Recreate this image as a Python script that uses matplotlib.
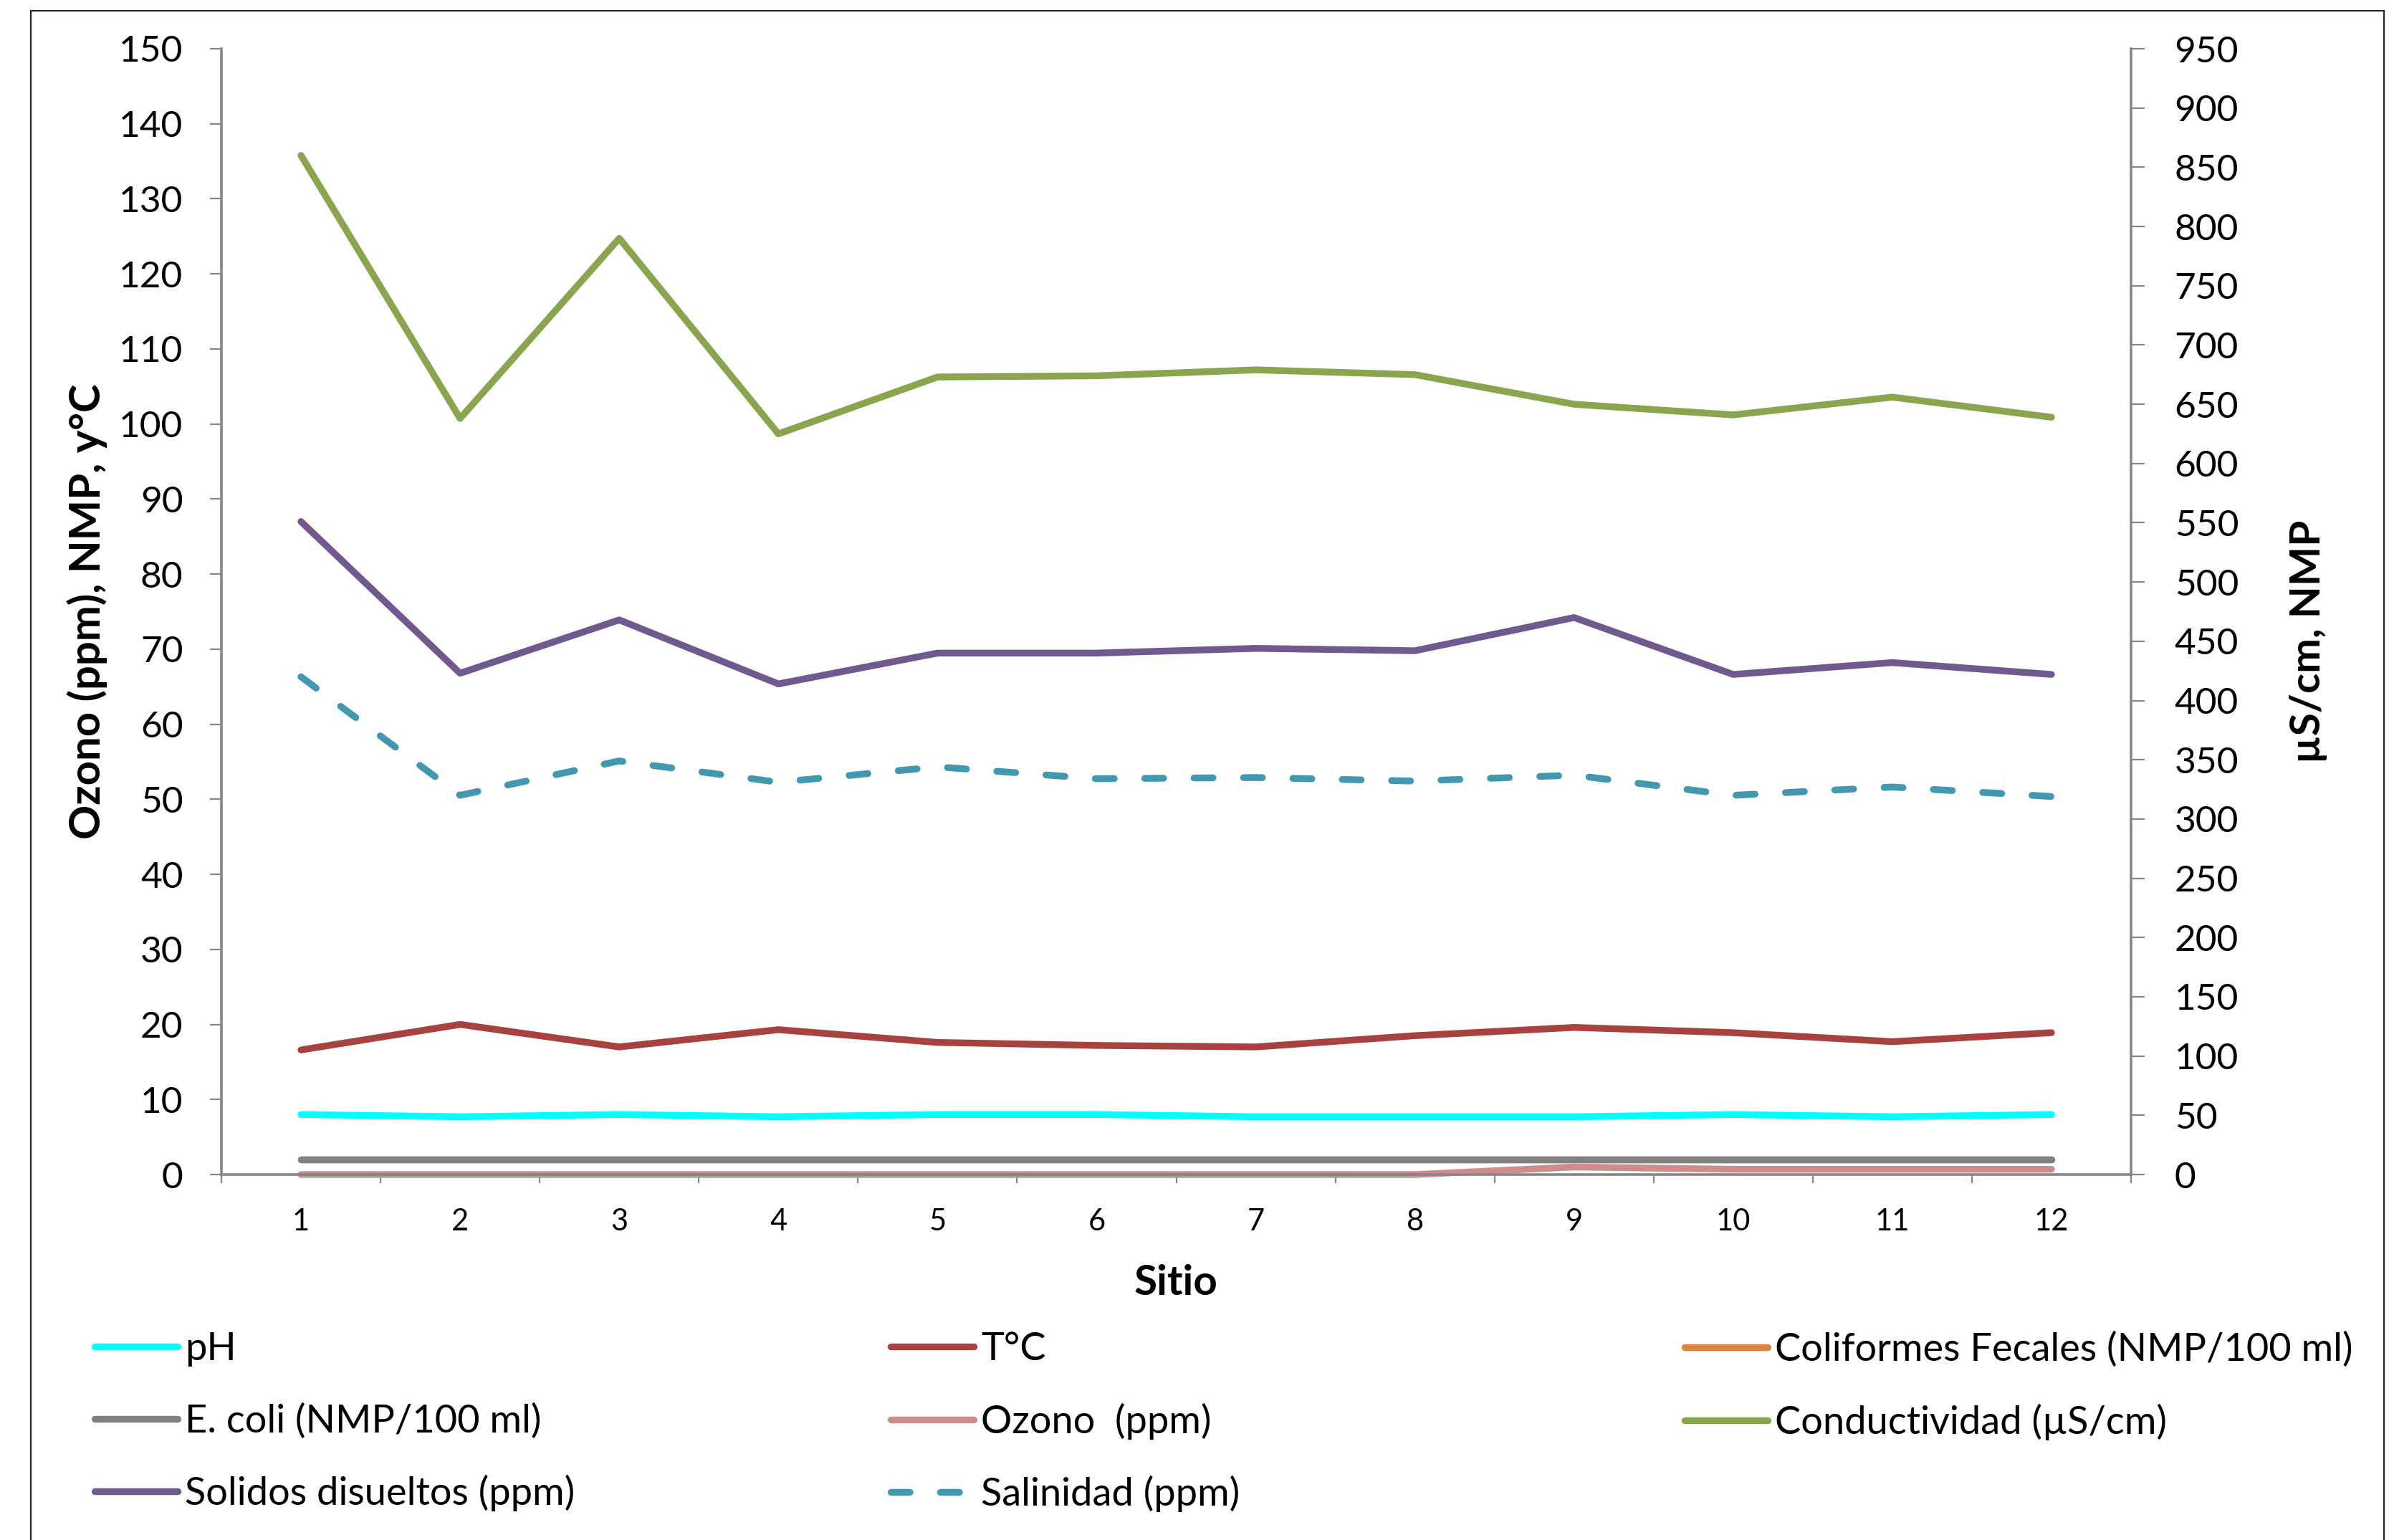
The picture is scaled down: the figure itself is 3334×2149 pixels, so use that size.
import numpy as np
import matplotlib
matplotlib.use("Agg")
import matplotlib.pyplot as plt
from matplotlib.patches import Rectangle
from matplotlib.ticker import MultipleLocator, FixedLocator

# ---------------- data ----------------
sitios = [1, 2, 3, 4, 5, 6, 7, 8, 9, 10, 11, 12]
ph = [8.0, 7.7, 8.0, 7.7, 8.0, 8.0, 7.7, 7.7, 7.7, 8.0, 7.7, 8.0]
temp = [16.6, 20.0, 17.0, 19.3, 17.6, 17.2, 17.0, 18.5, 19.6, 18.9, 17.7, 18.9]
coliformes = [2, 2, 2, 2, 2, 2, 2, 2, 2, 2, 2, 2]
ecoli = [2, 2, 2, 2, 2, 2, 2, 2, 2, 2, 2, 2]
ozono = [0, 0, 0, 0, 0, 0, 0, 0, 1.0, 0.7, 0.7, 0.7]
conductividad = [860, 638, 790, 625, 673, 674, 679, 675, 650, 641, 656, 639]
solidos = [551, 423, 468, 414, 440, 440, 444, 442, 470, 422, 432, 422]
salinidad = [420, 320, 349, 331, 344, 334, 335, 332, 337, 320, 327, 319]

labels_primary = ["pH", "T°C", "Coliformes Fecales (NMP/100 ml)",
                  "E. coli (NMP/100 ml)", "Ozono  (ppm)"]
labels_secondary = ["Conductividad (µS/cm)", "Solidos disueltos (ppm)",
                    "Salinidad (ppm)"]
xtick_labels = [str(s) for s in sitios]

# ---------------- style ----------------
plt.rcParams["font.family"] = ["Lato", "DejaVu Sans"]
W, H = 3334, 2149
DPI = 100
grey = "#868686"
LW = 6.8

fig = plt.figure(figsize=(W / DPI, H / DPI), dpi=DPI)
fig.patch.set_facecolor("white")

left_px, right_px, top_px, bot_px = 309, 2974, 68, 1639
ax = fig.add_axes([left_px / W, 1 - bot_px / H,
                   (right_px - left_px) / W, (bot_px - top_px) / H])
ax2 = ax.twinx()

common = dict(lw=LW, solid_capstyle="round", solid_joinstyle="round",
              clip_on=False)

ax.plot(sitios, ph, color="#00FFFF", label=labels_primary[0], **common)
ax.plot(sitios, temp, color="#A8423F", label=labels_primary[1], **common)
ax.plot(sitios, coliformes, color="#DB843D", label=labels_primary[2], **common)
ax.plot(sitios, ecoli, color="#808080", label=labels_primary[3], **common)
ax.plot(sitios, ozono, color="#CF8C8C", label=labels_primary[4], **common)

ax2.plot(sitios, conductividad, color="#89A54E", label=labels_secondary[0], **common)
ax2.plot(sitios, solidos, color="#71588F", label=labels_secondary[1], **common)
ax2.plot(sitios, salinidad, color="#4198AF", label=labels_secondary[2],
         ls=(0, (2.8, 4.5)), dash_capstyle="round", lw=LW,
         solid_joinstyle="round", clip_on=False)

# ---------------- axes ----------------
ax.set_xlim(0.5, 12.5)
ax.set_ylim(0, 150)
ax2.set_ylim(0, 950)
ax.yaxis.set_major_locator(MultipleLocator(10))
ax2.yaxis.set_major_locator(MultipleLocator(50))

ax.set_xticks(sitios)
ax.set_xticklabels(xtick_labels)
ax.xaxis.set_minor_locator(FixedLocator(np.arange(0.5, 13.0, 1.0)))

ax.tick_params(axis="x", which="major", length=0, pad=34, labelsize=30)
ax.tick_params(axis="x", which="minor", length=8.6, width=1.6, color=grey,
               direction="out")
ax.tick_params(axis="y", which="major", length=11.5, width=1.6, color=grey,
               direction="out", pad=27, labelsize=37)
ax2.tick_params(axis="y", which="major", length=13.7, width=1.6, color=grey,
                direction="out", pad=30, labelsize=37)

for s in ["top", "right"]:
    ax.spines[s].set_visible(False)
for s in ["top", "left", "bottom"]:
    ax2.spines[s].set_visible(False)
for sp in [ax.spines["left"], ax.spines["bottom"], ax2.spines["right"]]:
    sp.set_color(grey)
    sp.set_linewidth(2.6)

ax.set_ylabel("Ozono (ppm), NMP, y°C", fontsize=43, fontweight="bold")
ax.yaxis.label.set_verticalalignment("center")
ax.yaxis.set_label_coords(-0.0702, 0.5)

ax2.set_ylabel("µS/cm, NMP", fontsize=42, fontweight="bold", rotation=90)
ax2.yaxis.label.set_verticalalignment("center")
ax2.yaxis.set_label_coords(1.093, 0.4736)

ax.set_xlabel("Sitio", fontsize=42, fontweight="bold")
ax.xaxis.label.set_verticalalignment("center")
ax.xaxis.set_label_coords(0.5, -0.0965)

# ---------------- legend (three columns) ----------------
h1, l1 = ax.get_legend_handles_labels()
h2, l2 = ax2.get_legend_handles_labels()
hmap = dict(zip(l1 + l2, h1 + h2))
columns = [
    ["pH", "E. coli (NMP/100 ml)", "Solidos disueltos (ppm)"],
    ["T°C", "Ozono  (ppm)", "Salinidad (ppm)"],
    ["Coliformes Fecales (NMP/100 ml)", "Conductividad (µS/cm)"],
]
col_x = [132, 1243, 2351]
for cx, col in zip(col_x, columns):
    fig.legend([hmap[k] for k in col], col, loc="upper left",
               bbox_to_anchor=(cx / W, 1 - 1858 / H), frameon=False,
               fontsize=39, handlelength=2.15, handletextpad=0.18,
               labelspacing=0.93, borderpad=0, borderaxespad=0)

# chart-area border
fig.add_artist(Rectangle((43 / W, -0.01), (3327 - 43) / W, 1 - 15 / H + 0.01,
                         transform=fig.transFigure, fill=False,
                         edgecolor="#262626", lw=1.6))

fig.savefig("out.png", dpi=DPI, facecolor="white")
